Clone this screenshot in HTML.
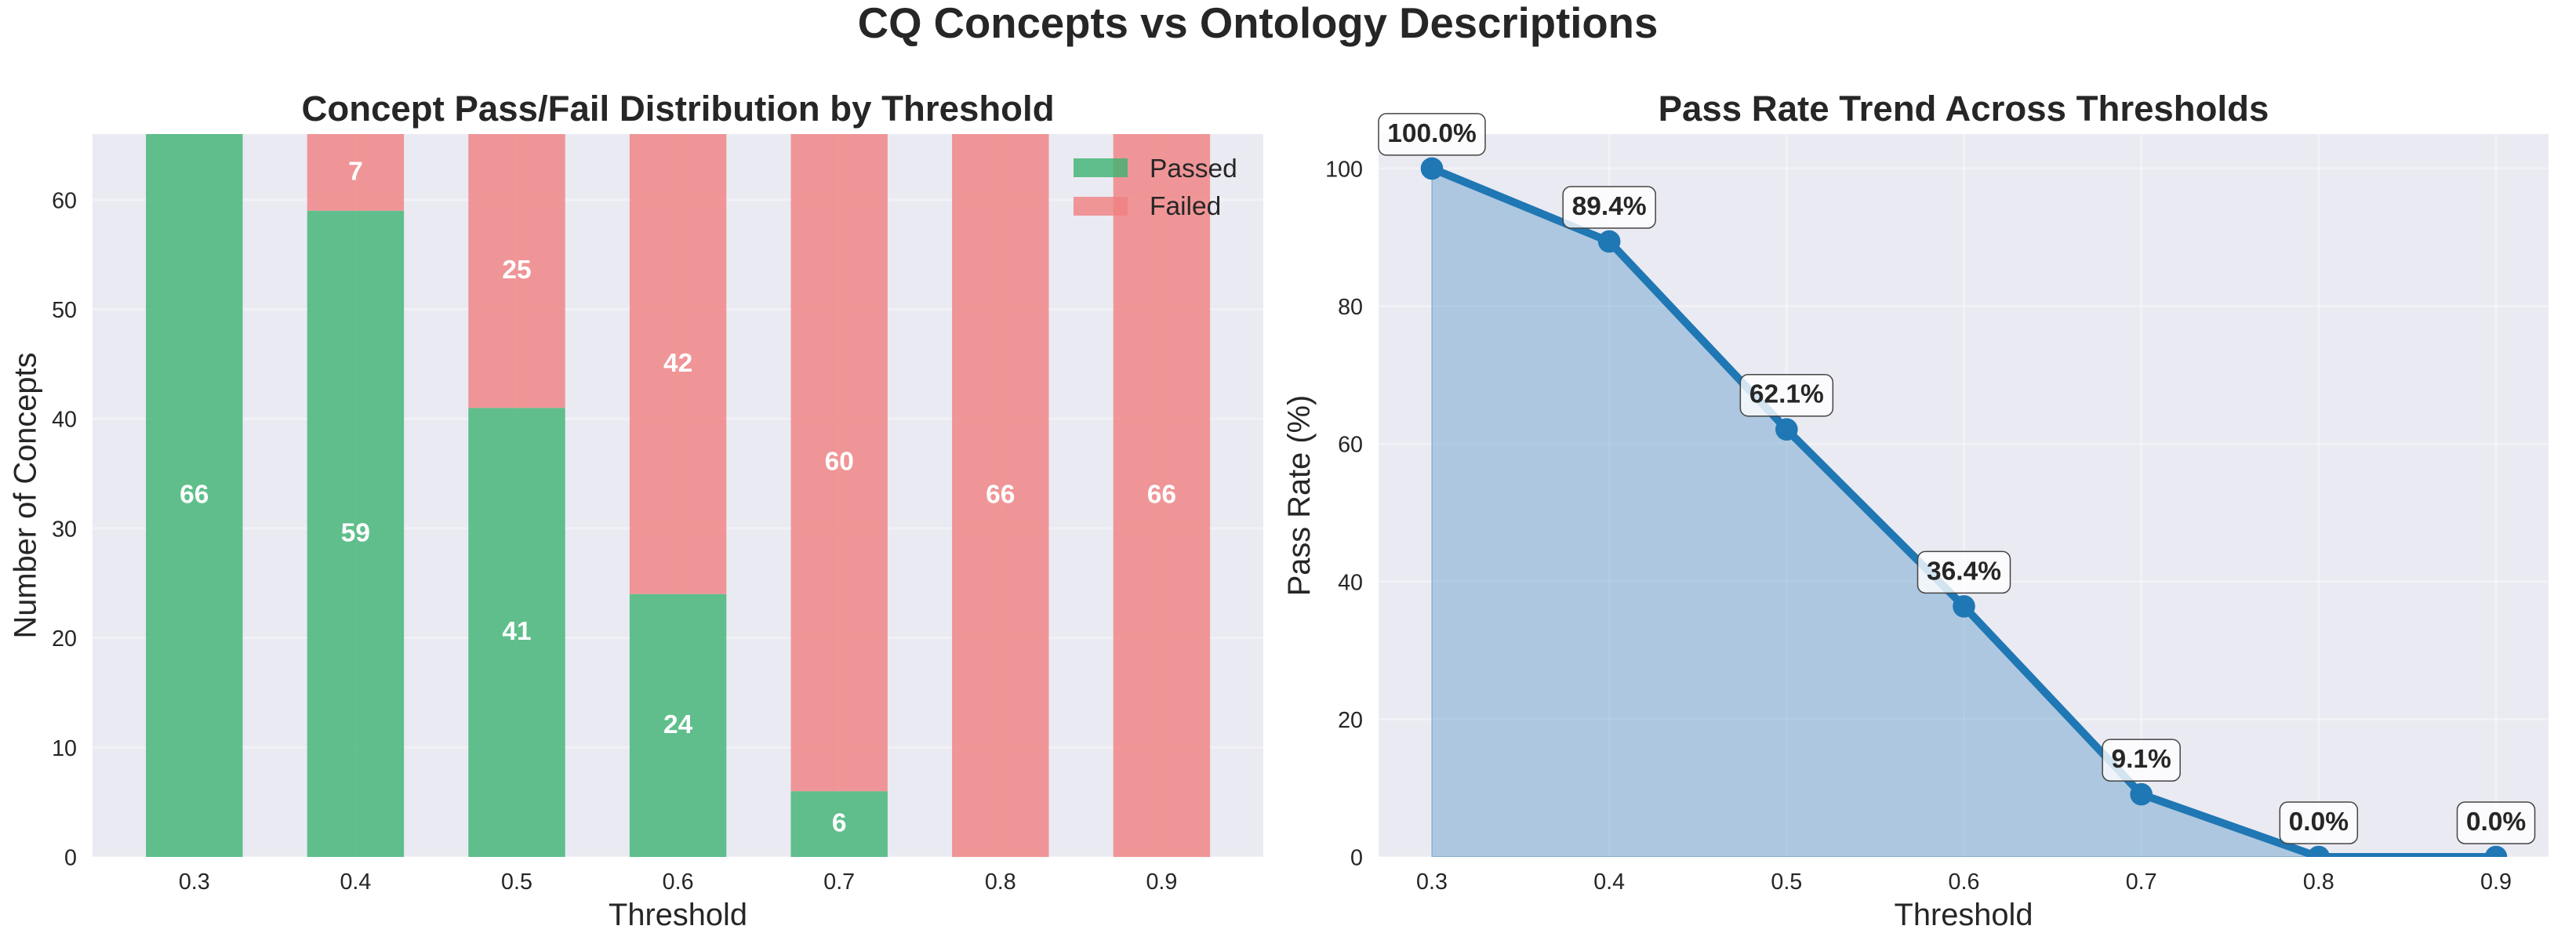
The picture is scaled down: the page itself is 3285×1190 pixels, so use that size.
<!DOCTYPE html>
<html lang="en">
<head>
<meta charset="utf-8">
<title>CQ Concepts vs Ontology Descriptions</title>
<style>
html,body{margin:0;padding:0;background:#fff;width:3285px;height:1190px;overflow:hidden}
svg{display:block}
text{font-family:"Liberation Sans",Arial,sans-serif;fill:#262626}
</style>
</head>
<body>
<svg id="figure" xmlns="http://www.w3.org/2000/svg" width="3285" height="1190" viewBox="0 0 3285 1190">
  <defs>
    <clipPath id="right-clip"><rect x="1758" y="171" width="1492" height="922"/></clipPath>
  </defs>
  <text x="1604" y="48" text-anchor="middle" font-size="54.5" font-weight="700">CQ Concepts vs Ontology Descriptions</text>
  <rect x="118" y="171" width="1493" height="922" fill="#eaeaf2"/>
  <rect x="1758" y="171" width="1492" height="922" fill="#eaeaf2"/>
  <g id="left-grid"></g>
  <g id="left-bars"></g>
  <g id="left-ticks"></g>
  <text x="864.5" y="154" text-anchor="middle" font-size="45.6" font-weight="700">Concept Pass/Fail Distribution by Threshold</text>
  <text x="864.5" y="1180" text-anchor="middle" font-size="39.8">Threshold</text>
  <text x="45.5" y="632" text-anchor="middle" font-size="39.8" transform="rotate(-90 45.5 632)">Number of Concepts</text>
  <g>
    <g>
      <rect x="1369" y="202" width="69" height="24" fill="#3cb371" fill-opacity="0.8"/>
      <text x="1466" y="226" font-size="33.5">Passed</text>
    </g>
    <g>
      <rect x="1369" y="251" width="69" height="24" fill="#f08080" fill-opacity="0.8"/>
      <text x="1466" y="274" font-size="33.5">Failed</text>
    </g>
  </g>
  <g id="right-grid"></g>
  <g id="right-series" clip-path="url(#right-clip)"></g>
  <g id="right-ticks"></g>
  <g id="right-annotations"></g>
  <text x="2504" y="154" text-anchor="middle" font-size="45.6" font-weight="700">Pass Rate Trend Across Thresholds</text>
  <text x="2504" y="1180" text-anchor="middle" font-size="39.8">Threshold</text>
  <text x="1670" y="632" text-anchor="middle" font-size="39.8" transform="rotate(-90 1670 632)">Pass Rate (%)</text>
</svg>
<script>
const thresholds = ["0.3", "0.4", "0.5", "0.6", "0.7", "0.8", "0.9"];
const passedCounts = [66, 59, 41, 24, 6, 0, 0];
const failedCounts = [0, 7, 25, 42, 60, 66, 66];
const passRates = [100.0, 89.4, 62.1, 36.4, 9.1, 0.0, 0.0];
const countTicks = [0, 10, 20, 30, 40, 50, 60];
const rateTicks = [0, 20, 40, 60, 80, 100];
const countMax = 66;
const rateMax = 105;

const NS = 'http://www.w3.org/2000/svg';
const plotTop = 171;
const plotBottom = 1093;
const leftPlot = { x0: 118, x1: 1611 };
const rightPlot = { x0: 1758, x1: 3250 };

function make(tag, attrs, parent, content) {
  const el = document.createElementNS(NS, tag);
  for (const key in attrs) el.setAttribute(key, attrs[key]);
  if (content !== undefined) el.textContent = content;
  parent.appendChild(el);
  return el;
}
function xBand(i) { return 247.8 + i * (1481.4 - 247.8) / (thresholds.length - 1); }
function xPoint(i) { return 1826 + i * (3183 - 1826) / (thresholds.length - 1); }
function yCount(v) { return plotBottom - (v / countMax) * (plotBottom - plotTop); }
function yRate(v) { return plotBottom - (v / rateMax) * (plotBottom - plotTop); }

const gridStyle = { stroke: '#ffffff', 'stroke-opacity': 0.35, 'stroke-width': 3 };
const leftGrid = document.getElementById('left-grid');
const leftBars = document.getElementById('left-bars');
const leftTicks = document.getElementById('left-ticks');
const rightGrid = document.getElementById('right-grid');
const rightSeries = document.getElementById('right-series');
const rightTicks = document.getElementById('right-ticks');
const rightAnnotations = document.getElementById('right-annotations');

countTicks.forEach(function (t) {
  const y = yCount(t);
  const line = make('line', Object.assign({ x1: leftPlot.x0, x2: leftPlot.x1, y1: y, y2: y }, gridStyle), leftGrid);
  
  
  const label = make('text', { x: 98, y: y + 10.5, 'text-anchor': 'end', 'font-size': 28.7 }, leftTicks, String(t));
  
  
});

thresholds.forEach(function (name, i) {
  const x = xBand(i);
  const line = make('line', Object.assign({ x1: x, x2: x, y1: plotTop, y2: plotBottom }, gridStyle), leftGrid);
  
  

  const tick = make('text', { x: x, y: 1134, 'text-anchor': 'middle', 'font-size': 28.7 }, leftTicks, name);
  
  

  const barWidth = 123.4;
  const passed = passedCounts[i];
  const failed = failedCounts[i];
  const passRect = make('rect', { x: x - barWidth / 2, y: yCount(passed), width: barWidth, height: plotBottom - yCount(passed), fill: '#3cb371', 'fill-opacity': 0.8 }, leftBars);
  
  
  const failRect = make('rect', { x: x - barWidth / 2, y: yCount(passed + failed), width: barWidth, height: yCount(passed) - yCount(passed + failed), fill: '#f08080', 'fill-opacity': 0.8 }, leftBars);
  
  

  if (passed > 0) {
    const passLabel = make('text', { x: x, y: yCount(passed / 2) + 9.5, 'text-anchor': 'middle', 'font-size': 33.5, 'font-weight': 700, style: 'fill:#ffffff' }, leftBars, String(passed));
    
    
  }
  if (failed > 0) {
    const failLabel = make('text', { x: x, y: yCount(passed + failed / 2) + 9.5, 'text-anchor': 'middle', 'font-size': 33.5, 'font-weight': 700, style: 'fill:#ffffff' }, leftBars, String(failed));
    
    
  }
});

rateTicks.forEach(function (t) {
  const y = yRate(t);
  const line = make('line', Object.assign({ x1: rightPlot.x0, x2: rightPlot.x1, y1: y, y2: y }, gridStyle), rightGrid);
  
  
  const label = make('text', { x: 1738, y: y + 10.5, 'text-anchor': 'end', 'font-size': 28.7 }, rightTicks, String(t));
  
  
});

thresholds.forEach(function (name, i) {
  const x = xPoint(i);
  const line = make('line', Object.assign({ x1: x, x2: x, y1: plotTop, y2: plotBottom }, gridStyle), rightGrid);
  
  
  const tick = make('text', { x: x, y: 1134, 'text-anchor': 'middle', 'font-size': 28.7 }, rightTicks, name);
  
  
});

const linePoints = passRates.map(function (v, i) { return xPoint(i) + ',' + yRate(v); }).join(' ');
const areaPoints = xPoint(0) + ',' + yRate(0) + ' ' + linePoints + ' ' + xPoint(passRates.length - 1) + ',' + yRate(0);
const area = make('polygon', { points: areaPoints, fill: '#1f77b4', 'fill-opacity': 0.3, stroke: '#1f77b4', 'stroke-opacity': 0.3, 'stroke-width': 2 }, rightSeries);


const trend = make('polyline', { points: linePoints, fill: 'none', stroke: '#1f77b4', 'stroke-width': 10, 'stroke-linejoin': 'round' }, rightSeries);



passRates.forEach(function (v, i) {
  const x = xPoint(i);
  const y = yRate(v);
  const point = make('circle', { cx: x, cy: y, r: 14.3, fill: '#1f77b4' }, rightSeries);
  
  

  const text = v.toFixed(1) + '%';
  const boxWidth = text.length === 6 ? 136 : (text.length === 5 ? 118 : 99);
  const box = make('rect', { x: x - boxWidth / 2, y: y - 70, width: boxWidth, height: 53, rx: 10, ry: 10, fill: '#ffffff', 'fill-opacity': 0.8, stroke: '#444444', 'stroke-width': 1.5 }, rightAnnotations);
  
  
  const label = make('text', { x: x, y: y - 34, 'text-anchor': 'middle', 'font-size': 33.5, 'font-weight': 700 }, rightAnnotations, text);
  
  
});
</script>
</body>
</html>
